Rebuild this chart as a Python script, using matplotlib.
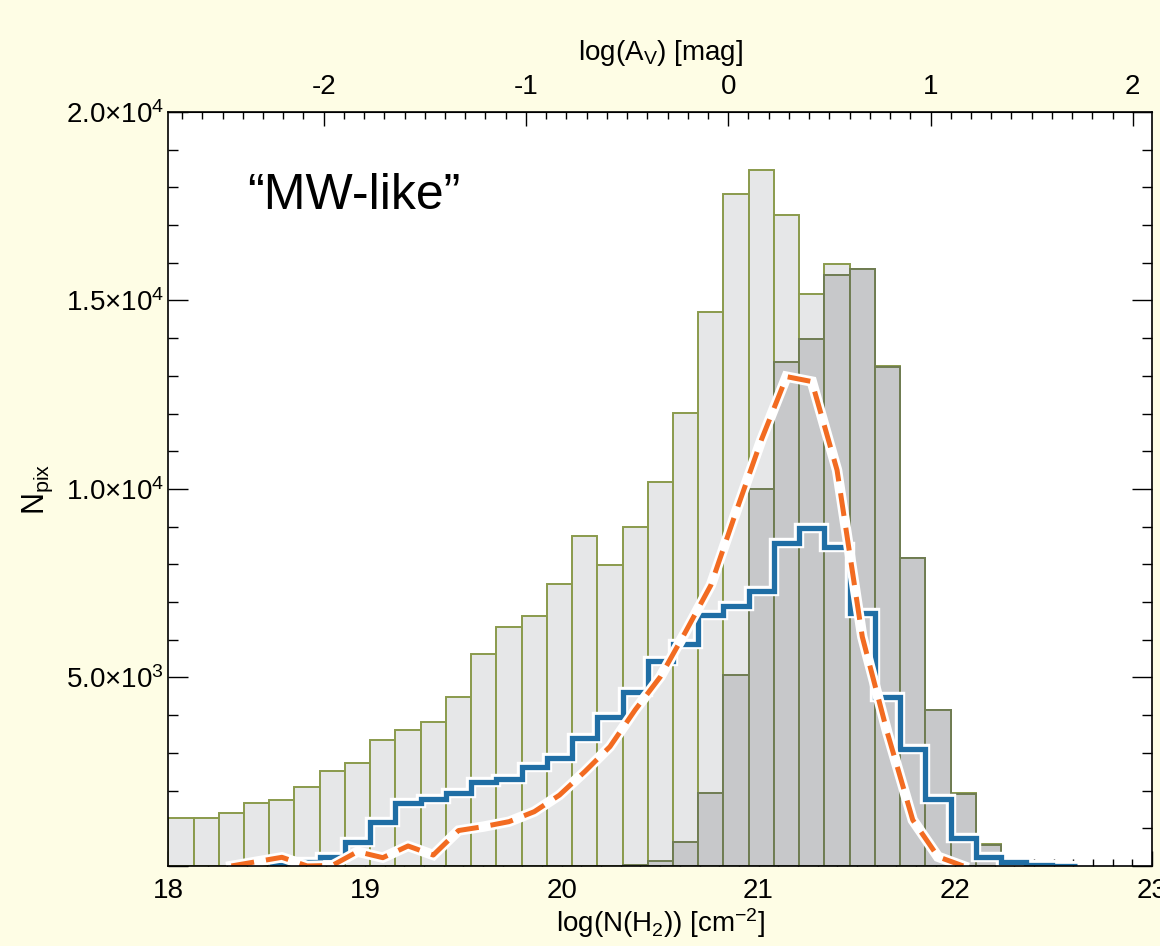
import numpy as np
import matplotlib
matplotlib.use('Agg')
import matplotlib.pyplot as plt
from matplotlib.ticker import MultipleLocator

plt.rcParams['font.family'] = ['Liberation Sans', 'DejaVu Sans']
plt.rcParams['mathtext.fontset'] = 'custom'
plt.rcParams['mathtext.rm'] = 'Liberation Sans'
plt.rcParams['mathtext.it'] = 'Liberation Sans:italic'
plt.rcParams['mathtext.bf'] = 'Liberation Sans:bold'
plt.rcParams['axes.unicode_minus'] = False

######## DATA ########

bin_width = 0.12827          # bins are 0.125 in log(Av)
x_start = 18.0

# light histogram, bins 0..32
light_counts = [1265, 1280, 1400, 1680, 1750, 2095, 2520, 2740, 3340, 3610,
                3810, 4490, 5620, 6330, 6640, 7470, 8760, 7990, 9000, 10190,
                12020, 14690, 17830, 18470, 17270, 15170, 15970, 15840, 13250, 8160,
                4140, 1930, 580]

# dark histogram, bins 18..32
dark_first_bin = 18
dark_counts = [30, 130, 628, 1936, 5066, 10008, 13377, 13970, 15676, 15836,
               13245, 8160, 4138, 1918, 560]

# blue step histogram, bins 4..35
blue_first_bin = 4
blue_counts = [15, 115, 230, 625, 1175, 1660, 1770, 1930, 2220, 2310,
               2620, 2860, 3400, 3940, 4610, 5425, 5890, 6660, 6900, 7290,
               8560, 8975, 8470, 6720, 4490, 3095, 1770, 735, 247, 115,
               35, 10]

# orange dashed curve, at bin centres of bins 2..31
orange_first_bin = 2
orange_counts = [0, 115, 230, 0, 15, 380, 220, 530, 290, 940,
                 1045, 1175, 1440, 1880, 2500, 3165, 4140, 5020, 6215, 7450,
                 9400, 11300, 12980, 12850, 10500, 6080, 3520, 1220, 245, 0]

y_ticks = [0, 5000, 10000, 15000, 20000]
y_labels = ['', '5.0×10$^{3}$', '1.0×10$^{4}$', '1.5×10$^{4}$', '2.0×10$^{4}$']
x_ticks = [18, 19, 20, 21, 22, 23]
av_ticks = [-2, -1, 0, 1, 2]

# log(Av) = (log N - av_zero) / av_scale
av_zero = 20.846
av_scale = 1.0282

######## PLOT ########

bg = '#FEFDE5'
fig = plt.figure(figsize=(11.6, 9.46), dpi=100, facecolor=bg)
ax = fig.add_axes([0.1451, 0.0846, 0.8480, 0.7970])
ax.set_facecolor('white')

def left_edges(first, n):
    return x_start + bin_width * (first + np.arange(n))

ax.bar(left_edges(0, len(light_counts)), light_counts, width=bin_width, align='edge',
       color='#E6E7E8', edgecolor='#8A9A4C', linewidth=1.4, zorder=2)
ax.bar(left_edges(dark_first_bin, len(dark_counts)), dark_counts, width=bin_width,
       align='edge', color='#C7C8CA', edgecolor='#6F7C52', linewidth=1.4, zorder=3)

blue_edges = x_start + bin_width * (blue_first_bin + np.arange(len(blue_counts) + 1))
ax.stairs(blue_counts, blue_edges, baseline=None, color='white', linewidth=7.5, zorder=4)
ax.stairs(blue_counts, blue_edges, baseline=None, color='#1F6EA5', linewidth=3.8, zorder=5)

orange_x = x_start + bin_width * (orange_first_bin + np.arange(len(orange_counts)) + 0.5)
ax.plot(orange_x, orange_counts, color='white', linewidth=7.5, zorder=6,
        solid_joinstyle='miter')
ax.plot(orange_x, orange_counts, color='#F26B21', linewidth=3.6, zorder=7,
        dashes=(4.6, 2.4))

ax.set_xlim(18, 23)
ax.set_ylim(0, 20000)

ax.set_xticks(x_ticks)
ax.xaxis.set_minor_locator(MultipleLocator(0.1))
ax.set_yticks(y_ticks, y_labels)
ax.yaxis.set_minor_locator(MultipleLocator(1000))

ax.tick_params(axis='x', which='major', direction='in', length=11, width=1,
               labelsize=20, pad=9, top=False)
ax.tick_params(axis='x', which='minor', direction='in', length=5, width=1, top=False)
ax.tick_params(axis='y', which='major', direction='in', length=14.5, width=1,
               labelsize=20, pad=3, right=True)
ax.tick_params(axis='y', which='minor', direction='in', length=7, width=1, right=True)

secax = ax.secondary_xaxis('top', functions=(lambda x: (x - av_zero) / av_scale,
                                             lambda a: a * av_scale + av_zero))
secax.set_xticks(av_ticks)
secax.xaxis.set_minor_locator(MultipleLocator(0.1))
secax.tick_params(which='major', direction='in', length=10, width=1, labelsize=20, pad=9)
secax.tick_params(which='minor', direction='in', length=5, width=1)
secax.set_xlabel('log(A$_{\\mathrm{V}}$) [mag]', fontsize=20, labelpad=10)

for s in ax.spines.values():
    s.set_linewidth(1.2)
    s.set_zorder(10)

ax.set_xlabel('log(N(H$_{2}$)) [cm$^{-2}$]', fontsize=20, labelpad=1)
ax.set_ylabel('N$_{\\mathrm{pix}}$', fontsize=22, labelpad=8)

ax.text(18.40, 17420, '\u201cMW-like\u201d', fontsize=36, ha='left', va='baseline', zorder=8)

fig.savefig('out.png', dpi=100, facecolor=bg)
